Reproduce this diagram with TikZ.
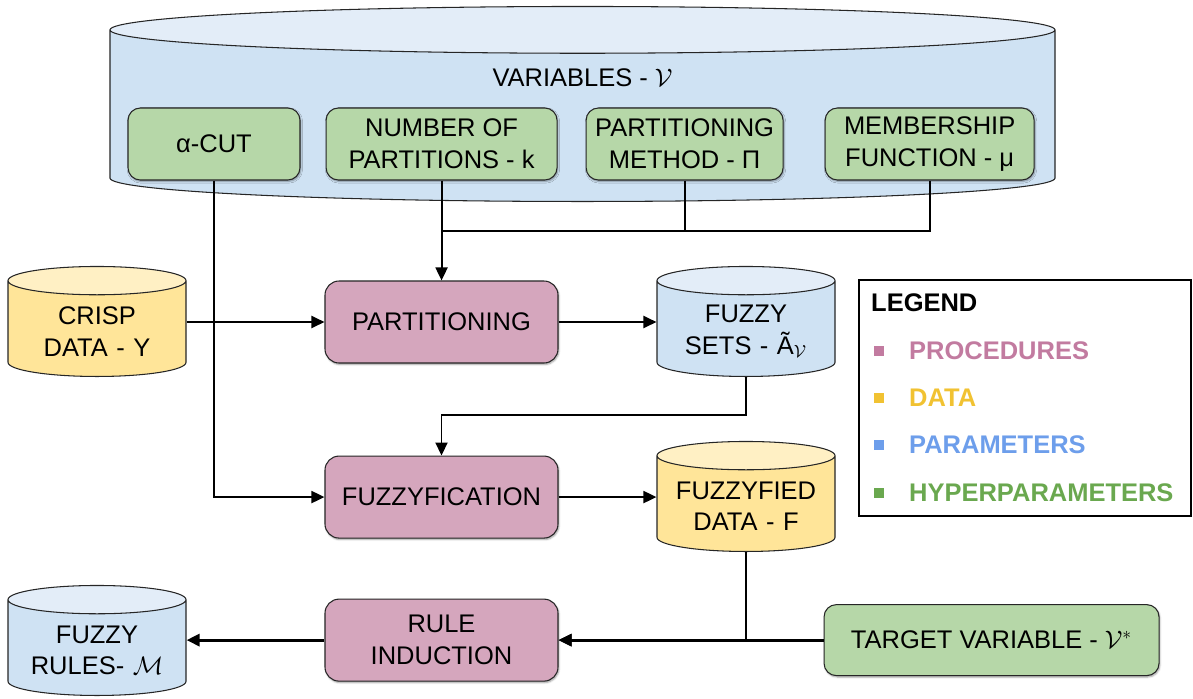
\documentclass[tikz,border=0pt]{standalone}
\usepackage{fontspec}
\setmainfont{Liberation Sans}
\usetikzlibrary{shapes.geometric, arrows.meta, positioning, calc, shadows.blur}
\definecolor{procFill}{HTML}{D5A6BD}
\definecolor{dataFill}{HTML}{FFE599}
\definecolor{dataTop}{HTML}{FFF0C4}
\definecolor{parFill}{HTML}{CFE2F3}
\definecolor{parTop}{HTML}{E3EDF8}
\definecolor{hypFill}{HTML}{B6D7A8}
\definecolor{procCol}{HTML}{C27BA0}
\definecolor{dataCol}{HTML}{F1C232}
\definecolor{parCol}{HTML}{6D9EEB}
\definecolor{hypCol}{HTML}{6AA84F}
\tikzset{
  proc/.style={rectangle, rounded corners=8pt, draw=black!85, line width=0.6pt,
               fill=procFill, align=center, minimum width=4.66cm, minimum height=1.64cm,
               blur shadow={shadow blur steps=4, shadow xshift=0.5pt, shadow yshift=-0.8pt, shadow blur radius=1pt}},
  hyp/.style={rectangle, rounded corners=7pt, draw=black!85, line width=0.6pt,
              fill=hypFill, align=center, minimum height=1.44cm,
              blur shadow={shadow blur steps=4, shadow xshift=0.5pt, shadow yshift=-0.8pt, shadow blur radius=1pt}},
  dbase/.style={cylinder, shape border rotate=90, draw=black!85, line width=0.6pt,
                cylinder uses custom fill, align=center, aspect=0.175, text width=3cm,
                minimum width=3.56cm, minimum height=2.2cm, anchor=bottom},
  flow/.style={-{Triangle[length=2.6mm, width=2.4mm]}, line width=1.1pt},
}

\begin{document}
\begin{tikzpicture}[font=\fontsize{14.5}{18}\selectfont,
  datadb/.style={dbase, cylinder body fill=dataFill, cylinder end fill=dataTop},
  pardb/.style={dbase, cylinder body fill=parFill, cylinder end fill=parTop},
  legtext/.style={anchor=west, font=\fontsize{14.5}{18}\selectfont\bfseries},
  legsq/.style={rectangle, minimum size=0.2cm, inner sep=0pt}]
  \useasboundingbox (0,0) rectangle (23.86,-13.96);
  % variables
  \node[pardb, aspect=0.0513, text width=18cm,
        minimum width=18.9cm, minimum height=3.9cm](vars) at (11.65,-4.04){};
  \node(varlbl) at (11.65,-1.56){VARIABLES - $\mathcal{V}$};
  \node[hyp, minimum width=3.44cm](alpha) at (4.28,-2.88){α-CUT};
  \node[hyp, minimum width=4.62cm, right=0.5cm of alpha](npart){NUMBER OF\\PARTITIONS - k};
  \node[hyp, minimum width=3.94cm, right=0.56cm of npart](pmethod){PARTITIONING\\METHOD - Π};
  \node[hyp, minimum width=4.18cm, right=0.82cm of pmethod](mfunc){MEMBERSHIP\\FUNCTION - μ};
  % flow
  \node[proc](part) at (8.83,-6.44){PARTITIONING};
  \node[datadb](crisp) at (1.94,-7.54){CRISP\\DATA - Y};
  \node[pardb](fsets) at (14.92,-7.54){FUZZY\\SETS - Ã$_{\mathcal{V}}$};
  \node[proc, below=1.84cm of part](fuzz){FUZZYFICATION};
  \node[datadb](fdata) at (14.92,-11.04){FUZZYFIED\\DATA - F};
  \node[proc, below=1.2cm of fuzz](rind){RULE\\INDUCTION};
  \node[pardb](rules) at (1.94,-13.92){FUZZY\\RULES- $\mathcal{M}$};
  \node[hyp, minimum width=6.7cm, minimum height=1.42cm, right=5.3cm of rind](target){TARGET VARIABLE - $\mathcal{V}^{*}$};
  % legend
  \node[draw, line width=1.1pt, minimum width=6.64cm, minimum height=4.72cm](legend) at (20.5,-7.96){};
  \node[legtext] (lghead) at (17.3,-6.06){LEGEND};
  \node[legsq, fill=procCol] (sq1) at (17.58,-7.02){};
  \node[legtext, text=procCol] (lg1) at (18.06,-7.02){PROCEDURES};
  \node[legsq, fill=dataCol] (sq2) at (17.58,-7.96){};
  \node[legtext, text=dataCol] (lg2) at (18.06,-7.96){DATA};
  \node[legsq, fill=parCol] (sq3) at (17.58,-8.9){};
  \node[legtext, text=parCol] (lg3) at (18.06,-8.9){PARAMETERS};
  \node[legsq, fill=hypCol] (sq4) at (17.58,-9.86){};
  \node[legtext, text=hypCol] (lg4) at (18.06,-9.86){HYPERPARAMETERS};
  % connectors
  \coordinate (jn) at ([yshift=-1cm]npart.south);
  \coordinate (bend) at ([yshift=0.82cm]fuzz.north);
  \draw[line width=1.1pt] (pmethod.south) |- (jn);
  \draw[line width=1.1pt] (mfunc.south) |- (jn);
  \draw[flow] (npart.south) -- (npart.south |- part.north);
  \draw[flow] (alpha.south) |- (fuzz.west);
  \draw[flow] (part.west -| crisp.east) -- (part.west);
  \draw[flow] (part.east) -- (part.east -| fsets.west);
  \draw[flow] (fsets.south) |- (bend) -- (fuzz.north);
  \draw[flow] (fuzz.east) -- (fuzz.east -| fdata.west);
  \draw[flow] (fdata.south) |- (rind.east);
  \draw[flow, line width=1.6pt] (target) -- (rind);
  \draw[flow, line width=1.6pt] (rind.west) -- (rind.west -| rules.east);
\end{tikzpicture}
\end{document}
